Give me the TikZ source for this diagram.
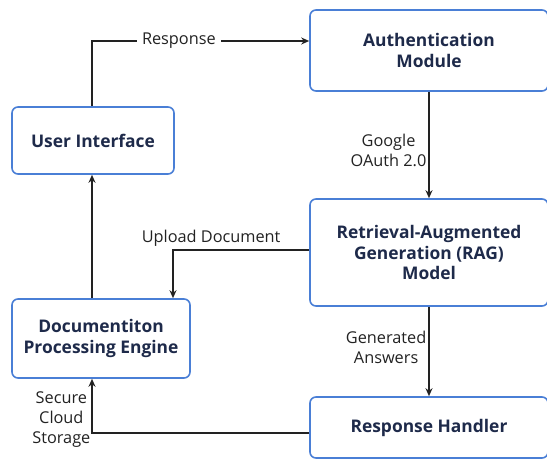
\documentclass[tikz,border=0pt]{standalone}
\usepackage{fontspec}
\setmainfont{Open Sans}
\usetikzlibrary{arrows.meta,calc}
\definecolor{boxblue}{HTML}{4A7FD6}
\definecolor{boxtext}{HTML}{1E2A4A}
\definecolor{linegray}{HTML}{222222}

\begin{document}
\begin{tikzpicture}[x=1pt,y=-1pt,>={Stealth[length=8pt,width=7pt]},
  block/.style={draw=boxblue,line width=1.6pt,rounded corners=6pt,fill=white,
    text=boxtext,font=\bfseries\fontsize{17.4}{20.5}\selectfont,align=center,inner sep=0},
  flow/.style={draw=linegray,line width=1.3pt},
  lbl/.style={text=linegray,font=\fontsize{16.3}{20}\selectfont,align=center,inner sep=2pt}]
\useasboundingbox (0,0) rectangle (547,460); %page

%blocks
\node[block,minimum width=238pt,minimum height=81pt] (auth) at (429,50.5) {Authentication\\Module};
\node[block,minimum width=162pt,minimum height=67pt] (ui) at (93,140.5) {User Interface};
\node[block,minimum width=238pt,minimum height=107pt] (rag) at (429,252.5) {Retrieval-Augmented\\Generation (RAG)\\Model};
\node[block,minimum width=178pt,minimum height=79pt] (doc) at (101,338.5) {Documentiton\\Processing Engine};
\node[block,minimum width=238pt,minimum height=61pt] (resp) at (429,427.5) {Response Handler};

%connectors
\draw[flow,->] ([xshift=-1pt]ui.north) |- ([yshift=9.5pt]auth.west)
  node[lbl,fill=white,inner sep=5pt,pos=0.70] {Response}; %response
\draw[flow,->] (auth.south) -- (rag.north)
  node[lbl,left,pos=0.55] {Google\\OAuth 2.0}; %oauth
\draw[flow,->] ([xshift=-9pt]doc.north) -- ([xshift=-1pt]ui.south); %up to ui
\draw[flow,->] ([yshift=2.5pt]rag.west) -| ([xshift=72pt]doc.north)
  node[lbl,above,pos=0.36,yshift=1pt] {Upload Document}; %upload
\draw[flow,->] (rag.south) -- (resp.north)
  node[lbl,left,pos=0.45] {Generated\\Answers}; %answers
\draw[flow,->] ([yshift=-5.5pt]resp.west) -| ([xshift=-9pt]doc.south)
  node[lbl,left,pos=0.62,inner sep=1pt] {Secure\\Cloud\\Storage}; %storage
\end{tikzpicture}
\end{document}
